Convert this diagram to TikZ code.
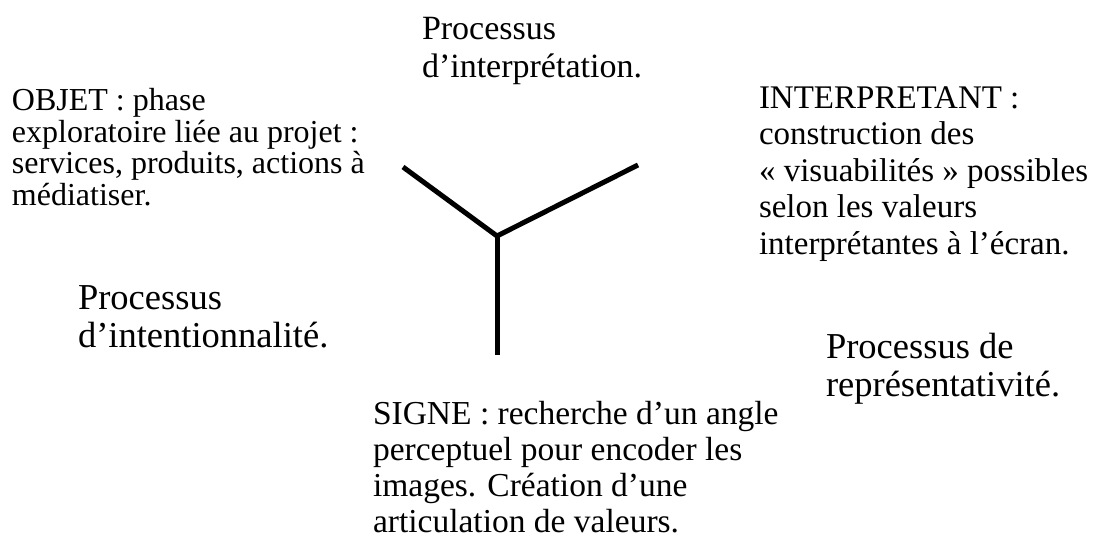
\documentclass[tikz,border=0pt]{standalone}
\usepackage{fontspec}
\setmainfont{Liberation Serif}
\usepackage{tikz}

\begin{document}
\begin{tikzpicture}[x=1pt,y=-1pt,
    petit/.style={anchor=base west,align=left,inner sep=0pt,outer sep=0pt},
    grand/.style={anchor=base west,align=left,inner sep=0pt,outer sep=0pt,
      font=\fontsize{36.5}{38}\selectfont}]
    \useasboundingbox (0,0) rectangle (1101,538);
    % la fourche
    \coordinate (centre) at (497,236);
    \coordinate (gauche) at (403,167);
    \coordinate (droite) at (638,165);
    \coordinate (bas) at (497,355);
    \draw[line width=5pt] (gauche) -- (centre) -- (droite);
    \draw[line width=5pt] (centre) -- (bas);
    % les textes (ancre = ligne de base de la derniere ligne)
    \node[grand,font=\fontsize{34}{38}\selectfont] (interpretation) at (422,77) {Processus\\d’interprétation.};
    \node[petit,font=\fontsize{32}{31.5}\selectfont] (objet) at (12,205) {OBJET : phase\\exploratoire liée au projet :\\services, produits, actions à\\médiatiser.};
    \node[petit,font=\fontsize{33}{36.5}\selectfont] (interpretant) at (759,254) {INTERPRETANT :\\construction des\\« visuabilités » possibles\\selon les valeurs\\interprétantes à l’écran.};
    \node[grand] (intention) at (78,347) {Processus\\d’intentionnalité.};
    \node[grand] (representation) at (826,396) {Processus de\\représentativité.};
    \node[petit,font=\fontsize{33.5}{36}\selectfont] (signe) at (373,532) {SIGNE : recherche d’un angle\\perceptuel pour encoder les\\images. Création d’une\\articulation de valeurs.};
\end{tikzpicture}
\end{document}
